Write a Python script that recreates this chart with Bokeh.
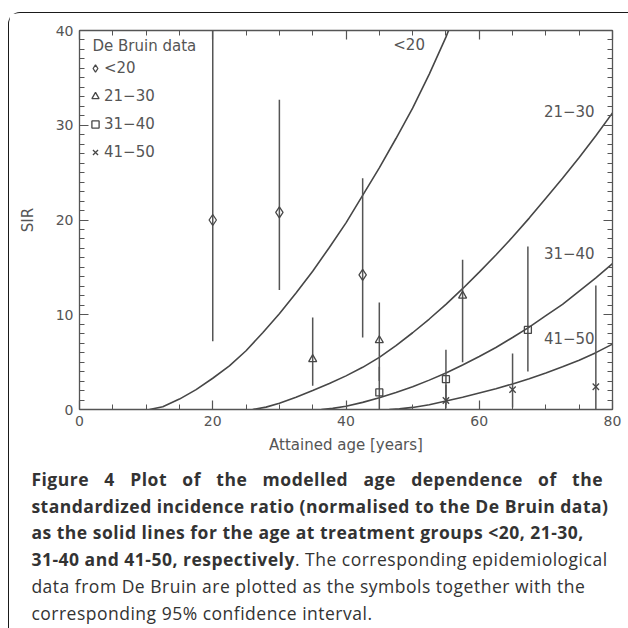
from bokeh.plotting import figure
from bokeh.models import (Range1d, LinearAxis, SingleIntervalTicker, Legend, LegendItem,
                          Label, Div, InlineStyleSheet)
from bokeh.layouts import column
from bokeh.embed import file_html
from bokeh.resources import INLINE

# ---------------- data ----------------
# De Bruin data, age at treatment groups: attained age, SIR, 95% CI
lt20_age = [20, 30, 42.5]
lt20_sir = [20.0, 20.8, 14.2]
lt20_lo = [7.2, 12.6, 7.6]
lt20_hi = [42.0, 32.7, 24.4]

g2130_age = [35, 45, 57.5]
g2130_sir = [5.3, 7.3, 12.0]
g2130_lo = [2.5, 3.0, 5.0]
g2130_hi = [9.7, 11.3, 15.8]

g3140_age = [45, 55, 67.3]
g3140_sir = [1.8, 3.2, 8.4]
g3140_lo = [0.0, 0.5, 4.0]
g3140_hi = [4.5, 6.3, 17.2]

g4150_age = [55, 65, 77.5]
g4150_sir = [0.95, 2.1, 2.4]
g4150_lo = [0.1, 0.2, 0.0]
g4150_hi = [2.6, 5.9, 13.1]

# modelled curves
curve_lt20_age = [10.5, 12.5, 15, 17.5, 20, 22.5, 25, 27.5, 30, 32.5, 35, 37.5, 40,
                  42.5, 45, 47.5, 50, 52.5, 55, 55.5]
curve_lt20_sir = [0.0, 0.3, 1.1, 2.1, 3.3, 4.6, 6.2, 8.1, 10.1, 12.3, 14.6, 17.1, 19.7,
                  22.6, 25.5, 28.6, 31.8, 35.4, 39.3, 40.2]

curve_2130_age = [26, 28, 30, 32.5, 35, 37.5, 40, 42.5, 45, 47.5, 50, 52.5, 55, 57.5,
                  60, 62.5, 65, 67.5, 70, 72.5, 75, 77.5, 80]
curve_2130_sir = [0.0, 0.25, 0.65, 1.3, 2.0, 2.75, 3.55, 4.45, 5.5, 6.75, 8.1, 9.55, 11.1,
                  12.75, 14.5, 16.3, 18.2, 20.2, 22.3, 24.4, 26.6, 28.9, 31.3]

curve_3140_age = [36.3, 38, 40, 42.5, 45, 47.5, 50, 52.5, 55, 57.5, 60, 62.5, 65, 67.5,
                  70, 72.5, 75, 77.5, 80]
curve_3140_sir = [0.0, 0.12, 0.35, 0.75, 1.25, 1.8, 2.4, 3.1, 3.85, 4.7, 5.6, 6.55, 7.6,
                  8.7, 9.9, 11.1, 12.5, 13.9, 15.4]

curve_4150_age = [46.5, 48, 50, 52.5, 55, 57.5, 60, 62.5, 65, 67.5, 70, 72.5, 75, 77.5, 80]
curve_4150_sir = [0.0, 0.07, 0.22, 0.5, 0.9, 1.3, 1.75, 2.2, 2.7, 3.25, 3.85, 4.5, 5.2,
                  6.0, 6.9]

group_labels = ["<20", "21\u221230", "31\u221240", "41\u221250"]
curve_label_x = [47.1, 69.7, 69.7, 69.7]
curve_label_y = [38.5, 31.5, 16.5, 7.5]

x_ticks_interval = 20
y_ticks_interval = 10

caption_lines = [
    ("<b>Figure 4 Plot of the modelled age dependence of the</b>", True),
    ("<b>standardized incidence ratio (normalised to the De Bruin data)</b>", False),
    ("<b>as the solid lines for the age at treatment groups &lt;20, 21-30,</b>", False),
    ("<b>31-40 and 41-50, respectively</b>. The corresponding epidemiological", False),
    ("data from De Bruin are plotted as the symbols together with the", False),
    ("corresponding 95% confidence interval.", False),
]

# ---------------- styles ----------------
INK = "#474747"
TXT = "#555555"
FONT = "DejaVu Sans"

p = figure(width=616, height=448, output_backend="svg", toolbar_location=None,
           x_range=Range1d(0, 80), y_range=Range1d(0, 40),
           min_border_left=70, min_border_right=13, min_border_top=17, min_border_bottom=52)
p.outline_line_color = None
p.grid.visible = False
p.background_fill_color = "white"
p.border_fill_color = "white"


def style_axis(ax, labels=True):
    ax.axis_line_color = "#555555"
    ax.axis_line_width = 1.3
    ax.major_tick_line_color = "#555555"
    ax.minor_tick_line_color = "#555555"
    ax.major_tick_line_width = 1.2
    ax.minor_tick_line_width = 1.0
    ax.major_tick_in = 9
    ax.major_tick_out = 0
    ax.minor_tick_in = 5
    ax.minor_tick_out = 0
    ax.major_label_text_font = FONT
    if labels:
        ax.major_label_text_color = TXT
        ax.major_label_text_font_size = "14px"
        ax.major_label_standoff = 6
    else:
        ax.major_label_text_color = None
        ax.major_label_text_font_size = "1px"
        ax.major_label_standoff = 0
    ax.axis_label_text_font = FONT
    ax.axis_label_text_font_style = "normal"
    ax.axis_label_text_color = TXT
    ax.axis_label_text_font_size = "15px"


p.xaxis.ticker = SingleIntervalTicker(interval=x_ticks_interval, num_minor_ticks=4)
p.yaxis.ticker = SingleIntervalTicker(interval=y_ticks_interval, num_minor_ticks=10)
p.xaxis.axis_label = "Attained age [years]"
p.yaxis.axis_label = "SIR"
style_axis(p.xaxis[0])
style_axis(p.yaxis[0])
p.xaxis.axis_label_standoff = 7
p.yaxis.axis_label_standoff = 16

ax_r = LinearAxis(ticker=SingleIntervalTicker(interval=y_ticks_interval, num_minor_ticks=10))
style_axis(ax_r, labels=False)
p.add_layout(ax_r, "right")
ax_t = LinearAxis(ticker=SingleIntervalTicker(interval=x_ticks_interval, num_minor_ticks=4))
style_axis(ax_t, labels=False)
p.add_layout(ax_t, "above")

# model curves
for xs, ys in [(curve_lt20_age, curve_lt20_sir), (curve_2130_age, curve_2130_sir),
               (curve_3140_age, curve_3140_sir), (curve_4150_age, curve_4150_sir)]:
    p.line(xs, ys, line_color=INK, line_width=1.6)

# error bars and markers
groups = [
    (lt20_age, lt20_sir, lt20_lo, lt20_hi, "diamond", 11),
    (g2130_age, g2130_sir, g2130_lo, g2130_hi, "triangle", 8),
    (g3140_age, g3140_sir, g3140_lo, g3140_hi, "square", 7),
    (g4150_age, g4150_sir, g4150_lo, g4150_hi, "x", 9),
]
marker_renderers = []
for ages, sirs, los, his, mk, sz in groups:
    p.segment(x0=ages, y0=los, x1=ages, y1=his, line_color="#555555", line_width=1.5)
    r = p.scatter(ages, sirs, marker=mk, size=sz, fill_color="white", fill_alpha=0.0,
                  line_color=INK, line_width=1.3)
    marker_renderers.append(r)

# curve labels
for lab, lx, ly in zip(group_labels, curve_label_x, curve_label_y):
    p.add_layout(Label(x=lx, y=ly, text=lab, text_font=FONT, text_font_size="15px",
                       text_color=TXT, text_baseline="middle", text_align="left"))

# legend
p.add_layout(Label(x=1.95, y=38.4, text="De Bruin data", text_font=FONT,
                   text_font_size="15px", text_color=TXT, text_baseline="middle"))
legend = Legend(items=[LegendItem(label=l, renderers=[r]) for l, r in zip(group_labels, marker_renderers)],
                location=(7, 247), padding=7, margin=0, spacing=8,
                glyph_width=18, glyph_height=20, label_height=20, label_standoff=0,
                label_text_font=FONT, label_text_font_size="15px", label_text_color=TXT,
                background_fill_alpha=0.0, border_line_color=None)
p.add_layout(legend)

# caption
rows = []
for i, (txt, just) in enumerate(caption_lines):
    extra = "text-align:justify;text-align-last:justify;" if just else ""
    rows.append(f'<div style="white-space:nowrap;{extra}">{txt}</div>')
html = ('<div style="font-family:\'Open Sans\';font-size:17.5px;letter-spacing:0.5px;'
        'line-height:26.7px;color:#333;width:589px;padding:0 0 0 17.4px;">'
        + "".join(rows) + "</div>")
cap = Div(text=html, width=616)

box_css = InlineStyleSheet(css=":host { border-left: 1.6px solid #1a1a1a; border-top: 1.6px solid #1a1a1a;"
                               " border-top-left-radius: 12px; margin-top: 12px; margin-left: 8px; }")
layout = column(p, cap, stylesheets=[box_css])

open("out.html", "w").write(file_html(layout, INLINE))
